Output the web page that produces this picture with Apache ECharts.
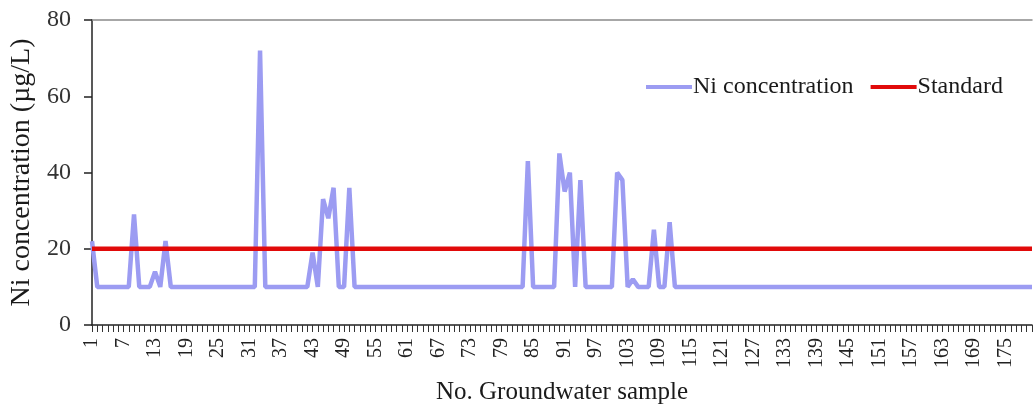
<!DOCTYPE html>
<html>
<head>
<meta charset="utf-8">
<title>Ni concentration in groundwater samples</title>
<script src="https://cdn.jsdelivr.net/npm/echarts@6/dist/echarts.min.js"></script>
<style>
  html, body { margin: 0; padding: 0; background: #ffffff; }
  #chart { width: 1033px; height: 410px; }
</style>
</head>
<body>
<div id="chart"></div>
<script>
// Sample numbers 1..180 along the x axis
const sampleNumbers = [];
for (let i = 1; i <= 180; i++) sampleNumbers.push(String(i));

// Measured Ni concentration (µg/L), one value per sample
const niConcentration = [
  22, 10, 10, 10, 10, 10, 10, 10, 29, 10,
  10, 10, 14, 10, 22, 10, 10, 10, 10, 10,
  10, 10, 10, 10, 10, 10, 10, 10, 10, 10,
  10, 10, 72, 10, 10, 10, 10, 10, 10, 10,
  10, 10, 19, 10, 33, 28, 36, 10, 10, 36,
  10, 10, 10, 10, 10, 10, 10, 10, 10, 10,
  10, 10, 10, 10, 10, 10, 10, 10, 10, 10,
  10, 10, 10, 10, 10, 10, 10, 10, 10, 10,
  10, 10, 10, 43, 10, 10, 10, 10, 10, 45,
  35, 40, 10, 38, 10, 10, 10, 10, 10, 10,
  40, 38, 10, 12, 10, 10, 10, 25, 10, 10,
  27, 10, 10, 10, 10, 10, 10, 10, 10, 10,
  10, 10, 10, 10, 10, 10, 10, 10, 10, 10,
  10, 10, 10, 10, 10, 10, 10, 10, 10, 10,
  10, 10, 10, 10, 10, 10, 10, 10, 10, 10,
  10, 10, 10, 10, 10, 10, 10, 10, 10, 10,
  10, 10, 10, 10, 10, 10, 10, 10, 10, 10,
  10, 10, 10, 10, 10, 10, 10, 10, 10, 10
];

// Permissible limit for Ni (µg/L)
const standardLimit = 20;
const standardLine = sampleNumbers.map(() => standardLimit);

// Y axis ticks
const yTicks = { min: 0, max: 80, interval: 20 };

const FONT = 'Liberation Serif';
const chart = echarts.init(document.getElementById('chart'), null, { renderer: 'canvas' });

chart.setOption({
  animation: false,
  backgroundColor: '#ffffff',
  textStyle: { fontFamily: FONT },
  grid: { left: 92, right: 1, top: 20, bottom: 81, containLabel: false },
  legend: {
    left: 641,
    top: 70,
    icon: 'rect',
    itemWidth: 46,
    itemHeight: 4,
    itemGap: 17,
    textStyle: { fontFamily: FONT, fontSize: 24, color: '#1a1a1a', padding: [0, 0, 0, -4] },
    data: ['Ni concentration', 'Standard']
  },
  xAxis: [
    {
      type: 'category',
      data: sampleNumbers,
      boundaryGap: false,
      name: 'No. Groundwater sample',
      nameLocation: 'middle',
      nameGap: 55,
      nameTextStyle: { fontFamily: FONT, fontSize: 25, color: '#1a1a1a' },
      axisLine: { show: true, lineStyle: { color: '#222', width: 1.5 } },
      axisTick: { show: true, interval: 0, length: 7, lineStyle: { color: '#333', width: 1 } },
      axisLabel: {
        interval: 5,
        rotate: 90,
        margin: 13,
        fontFamily: FONT,
        fontSize: 20,
        color: '#222'
      },
      splitLine: { show: false }
    },
    {
      type: 'category',
      data: sampleNumbers,
      boundaryGap: false,
      position: 'top',
      axisLine: { show: true, lineStyle: { color: '#8a8a8a', width: 1.5 } },
      axisTick: { show: false },
      axisLabel: { show: false },
      splitLine: { show: false }
    }
  ],
  yAxis: {
    type: 'value',
    min: yTicks.min,
    max: yTicks.max,
    interval: yTicks.interval,
    name: 'Ni concentration (µg/L)',
    nameLocation: 'middle',
    nameGap: 52,
    nameTextStyle: { fontFamily: FONT, fontSize: 28, color: '#1a1a1a' },
    axisLine: { show: true, lineStyle: { color: '#222', width: 1.5 } },
    axisTick: { show: true, length: 8, lineStyle: { color: '#222', width: 1.5 } },
    axisLabel: { fontFamily: FONT, fontSize: 24, color: '#333', margin: 21 },
    splitLine: { show: false }
  },
  series: [
    {
      name: 'Ni concentration',
      type: 'line',
      data: niConcentration,
      showSymbol: false,
      symbol: 'none',
      color: '#9c9cf2',
      lineStyle: { color: '#9c9cf2', width: 4.5 },
      z: 2
    },
    {
      name: 'Standard',
      type: 'line',
      data: standardLine,
      showSymbol: false,
      symbol: 'none',
      color: '#e10a0a',
      lineStyle: { color: '#e10a0a', width: 4.5 },
      z: 3
    }
  ]
});
</script>
</body>
</html>
